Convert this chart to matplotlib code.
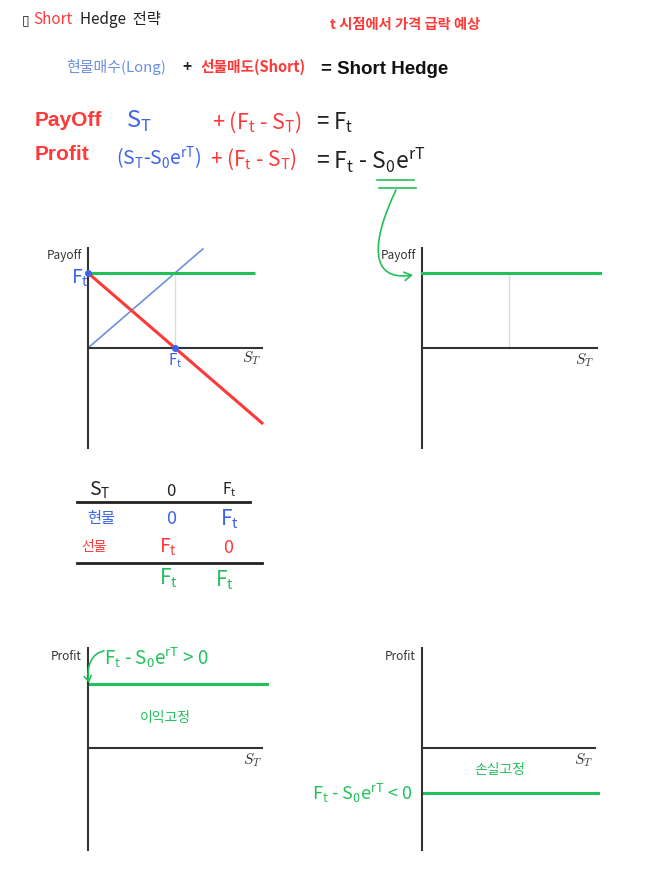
import matplotlib
matplotlib.use("Agg")
import matplotlib.pyplot as plt
from matplotlib.patches import FancyArrowPatch
from matplotlib.path import Path
import numpy as np

plt.rcParams['font.family'] = ['Noto Sans CJK KR', 'DejaVu Sans']
plt.rcParams['mathtext.fontset'] = 'dejavusans'

# ---------------- data ----------------
F_T = 1.0                          # futures price F_t (units)
st_range = [0.0, 2.0]              # S_T axis span
spot_x = [0.0, 1.32]               # long spot payoff: S_T
spot_y = [0.0, 1.32]
fut_x = [0.0, 2.0]                 # short futures payoff: F_t - S_T
fut_y = [F_T - 0.0, F_T - 2.0]
hedge_x = [0.0, 1.92]              # hedge payoff = F_t
hedge_y = [F_T, F_T]
hedge2_x = [0.0, 2.04]
profit_gain = 0.85                 # F_t - S0 e^{rT} > 0
profit_loss = -0.60                # F_t - S0 e^{rT} < 0
profit_x = [0.0, 2.06]
profit2_x = [0.0, 2.04]

table_header = ["S$_\\mathregular{T}$", "0", "F$_\\mathregular{t}$"]
table_spot = ["현물", "0", "F$_\\mathregular{t}$"]
table_fut = ["선물", "F$_\\mathregular{t}$", "0"]
table_sum = ["", "F$_\\mathregular{t}$", "F$_\\mathregular{t}$"]

RED = '#ff3838'
GREEN = '#22c05a'
BLUE = '#3d63ee'
LBLUE = '#6e8fe0'
AX = '#333333'
W, H = 647, 874

fig = plt.figure(figsize=(W / 100, H / 100), dpi=100)
fig.patch.set_facecolor('white')


def T(x, y, s, **kw):
    kw.setdefault('va', 'center')
    return fig.text(x / W, 1 - y / H, s, **kw)


def P(x, y):
    return (x / W, 1 - y / H)


def make_ax(left, right, top, bottom, xlim, ylim):
    ax = fig.add_axes([left / W, 1 - bottom / H, (right - left) / W, (bottom - top) / H])
    ax.set_xlim(*xlim)
    ax.set_ylim(*ylim)
    for s in ('top', 'right'):
        ax.spines[s].set_visible(False)
    ax.spines['left'].set_position(('data', 0))
    ax.spines['bottom'].set_position(('data', 0))
    for s in ('left', 'bottom'):
        ax.spines[s].set_color(AX)
        ax.spines[s].set_linewidth(1.5)
    ax.set_xticks([])
    ax.set_yticks([])
    ax.patch.set_alpha(0)
    return ax


def S_T_label(x, y):
    T(x, y, r'$S_T$', ha='center', fontsize=11, color=AX, math_fontfamily='cm')


hand = dict(fontweight='light')
Ft = r'F$_\mathregular{t}$'
S0 = r'S$_\mathregular{0}$e$^\mathregular{rT}$'
ST = r'S$_\mathregular{T}$'

# ---------------- header texts ----------------
T(22, 20, '▯', fontsize=10, color='#222222', family=['DejaVu Sans'])
T(33, 20, 'Short', fontsize=11, color=RED, fontweight='medium')
T(80, 20, 'Hedge  전략', fontsize=11, color='#222222', fontweight='medium')
T(330, 25, 't 시점에서 가격 급락 예상', fontsize=10.3, color=RED, fontweight='bold')
T(66, 67, '현물매수(Long)', fontsize=10.8, color=LBLUE, fontweight='medium')
T(187, 67, '+', ha='center', fontsize=11, color='#222222', fontweight='bold')
T(200, 67, '선물매도(Short)', fontsize=10.6, color=RED, fontweight='bold')
T(321, 69, '= Short Hedge', fontsize=13.5, color='#111111', fontweight='bold',
  family=['Liberation Sans'])

T(35, 120, 'PayOff', fontsize=15, color=RED, fontweight='bold', family=['Liberation Sans'])
T(35, 154, 'Profit', fontsize=15, color=RED, fontweight='bold', family=['Liberation Sans'])

T(126, 121, ST, fontsize=17, color=BLUE, **hand)
T(212, 122, '+ (' + Ft + ' - ' + ST + ')', fontsize=15.5, color=RED, **hand)
T(316, 123, '= ' + Ft, fontsize=16, color='#222222', **hand)

T(116, 158, '(' + ST + '-' + S0 + ')', fontsize=14, color=BLUE, **hand)
T(210, 159, '+ (' + Ft + ' - ' + ST + ')', fontsize=15, color=RED, **hand)
T(316, 160, '= ' + Ft + ' - ' + S0, fontsize=16.5, color='#222222', **hand)

# green double underline + curved arrow to the payoff chart
fig.add_artist(plt.Line2D([377 / W, 414 / W], [1 - 180 / H, 1 - 180 / H], color=GREEN, lw=1.2))
fig.add_artist(plt.Line2D([379 / W, 416 / W], [1 - 188 / H, 1 - 188 / H], color=GREEN, lw=1.2))
path = Path([P(396, 190), P(372, 240), P(368, 282), P(413, 275)],
            [Path.MOVETO, Path.CURVE4, Path.CURVE4, Path.CURVE4])
arr = FancyArrowPatch(path=path, transform=fig.transFigure,
                      arrowstyle='->,head_length=5,head_width=3', color=GREEN, lw=1.2)
fig.add_artist(arr)

# ---------------- chart 1: payoff components ----------------
ax1 = make_ax(88, 262, 248, 448, (st_range[0], st_range[1]), (-1.333, 1.333))
ax1.plot([F_T, F_T], [0, F_T], color='#dddddd', lw=1, zorder=1)
ax1.plot(spot_x, spot_y, color=LBLUE, lw=1.2, zorder=2)
ax1.plot(hedge_x, hedge_y, color=GREEN, lw=2.2, zorder=3, solid_capstyle='butt')
ax1.plot(fut_x, fut_y, color=RED, lw=2.2, zorder=4, clip_on=False)
ax1.plot([0, F_T], [F_T, 0], 'o', color=BLUE, ms=4, zorder=5, clip_on=False)
T(82, 256, 'Payoff', ha='right', fontsize=8.5, color=AX)
T(80, 278, Ft, ha='center', fontsize=14, color=BLUE, **hand)
T(175, 361, Ft, ha='center', fontsize=11, color=BLUE, **hand)
S_T_label(251, 358)

# ---------------- chart 2: hedged payoff ----------------
ax2 = make_ax(422, 597, 248, 448, (0, 2.01), (-1.333, 1.333))
ax2.plot([F_T, F_T], [0, F_T], color='#dddddd', lw=1, zorder=1)
ax2.plot(hedge2_x, [F_T, F_T], color=GREEN, lw=2.2, zorder=3, clip_on=False)
T(416, 256, 'Payoff', ha='right', fontsize=8.5, color=AX)
S_T_label(584, 360)

# ---------------- table ----------------
cols = [100, 171, 229]
T(cols[0], 490, table_header[0], ha='center', fontsize=14, color='#222222', **hand)
T(cols[1], 491, table_header[1], ha='center', fontsize=12, color='#222222', **hand)
T(cols[2], 490, table_header[2], ha='center', fontsize=11, color='#222222', **hand)
fig.add_artist(plt.Line2D([77 / W, 250 / W], [1 - 502 / H] * 2, color='#222222', lw=2))
T(101, 518, table_spot[0], ha='center', fontsize=11, color=BLUE, **hand)
T(cols[1], 519, table_spot[1], ha='center', fontsize=13, color=BLUE, **hand)
T(cols[2], 519, table_spot[2], ha='center', fontsize=15, color=BLUE, **hand)
T(94, 547, table_fut[0], ha='center', fontsize=10, color=RED, **hand)
T(168, 547, table_fut[1], ha='center', fontsize=14, color=RED, **hand)
T(228, 548, table_fut[2], ha='center', fontsize=13, color=RED, **hand)
fig.add_artist(plt.Line2D([77 / W, 262 / W], [1 - 563 / H] * 2, color='#222222', lw=2))
T(168, 578, table_sum[1], ha='center', fontsize=15, color=GREEN, **hand)
T(224, 580, table_sum[2], ha='center', fontsize=15, color=GREEN, **hand)

# ---------------- chart 3: profit (gain locked) ----------------
ax3 = make_ax(88, 262, 648, 850, (0, 2.0), (-1.36, 1.333))
ax3.plot(profit_x, [profit_gain, profit_gain], color=GREEN, lw=2.2, clip_on=False)
T(82, 657, 'Profit', ha='right', fontsize=8.5, color=AX)
S_T_label(252, 760)
T(165, 718, '이익고정', ha='center', fontsize=10, color=GREEN, **hand)
T(104, 658, Ft + ' - ' + S0 + ' > 0', fontsize=13.5, color=GREEN, **hand)
path2 = Path([P(104, 651), P(92, 653), P(86, 666), P(89, 683)],
             [Path.MOVETO, Path.CURVE4, Path.CURVE4, Path.CURVE4])
arr2 = FancyArrowPatch(path=path2, transform=fig.transFigure,
                       arrowstyle='->,head_length=4,head_width=2.5', color=GREEN, lw=1.2)
fig.add_artist(arr2)

# ---------------- chart 4: profit (loss locked) ----------------
ax4 = make_ax(422, 595, 648, 850, (0, 2.0), (-1.36, 1.333))
ax4.plot(profit2_x, [profit_loss, profit_loss], color=GREEN, lw=2.2, clip_on=False)
T(416, 657, 'Profit', ha='right', fontsize=8.5, color=AX)
S_T_label(583, 760)
T(500, 770, '손실고정', ha='center', fontsize=10, color=GREEN, **hand)
T(413, 793, Ft + ' - ' + S0 + ' < 0', ha='right', fontsize=13, color=GREEN, **hand)

fig.savefig('out.png', dpi=100, facecolor='white')
